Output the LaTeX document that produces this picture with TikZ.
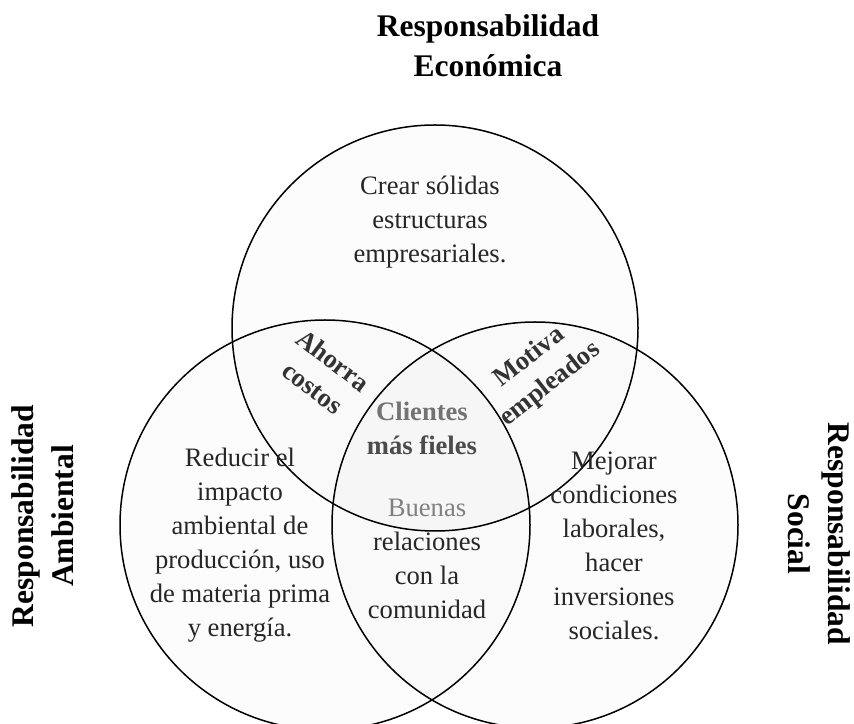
\documentclass[tikz,border=0pt]{standalone}
\usepackage{fontspec}
\setmainfont{Liberation Serif}

\tikzset{
    ring/.style = {line width = 1.5pt, fill = black, fill opacity = 0.012, draw opacity = 1},
    body/.style = {align = center, text = black!85, font = \fontsize{26.6}{34}\selectfont},
    overlap/.style = {align = center, font = \bfseries\fontsize{26.6}{34}\selectfont},
    heading/.style = {align = center, font = \bfseries\fontsize{31.5}{40}\selectfont}
}

\begin{document}
\begin{tikzpicture}[x = 1pt, y = 1pt]
    \useasboundingbox (0,0) rectangle (854,723);
    \clip (0,0) rectangle (854,723);
    \fill[white] (0,0) rectangle (854,723);

    % the three circles
    \draw[ring] (435,395) circle (203pt);
    \draw[ring] (325,198) circle (205pt);
    \draw[ring] (535,198) circle (203pt);

    % headings
    \node (econ) at (488,677) [heading] {Responsabilidad\\Económica};
    \node (amb) at (43,207) [heading, rotate = 90] {Responsabilidad\\Ambiental};
    \node (soc) at (819,189) [heading, rotate = -90] {Responsabilidad\\Social};

    % texts inside the circles
    \node (crear) at (430,501) [body] {Crear sólidas\\estructuras\\empresariales.};
    \node (reducir) at (240,178) [body] {Reducir el\\impacto\\ambiental de\\producción, uso\\de materia prima\\y energía.};
    \node (mejorar) at (614,177) [body] {Mejorar\\condiciones\\laborales,\\hacer\\inversiones\\sociales.};
    \node (buenas) at (427,164) [body] {\textcolor{black!50}{Buenas}\\relaciones\\con la\\comunidad};

    % overlaps
    \node (ahorra) at (323,349) [overlap, text = black!80, rotate = -37] {Ahorra\\costos};
    \node (motiva) at (540,352) [overlap, text = black!80, rotate = 38] {Motiva\\empleados};
    \node (clientes) at (422,295) [overlap, text = black!70] {\textcolor{black!55}{Clientes}\\más fieles};
\end{tikzpicture}
\end{document}
